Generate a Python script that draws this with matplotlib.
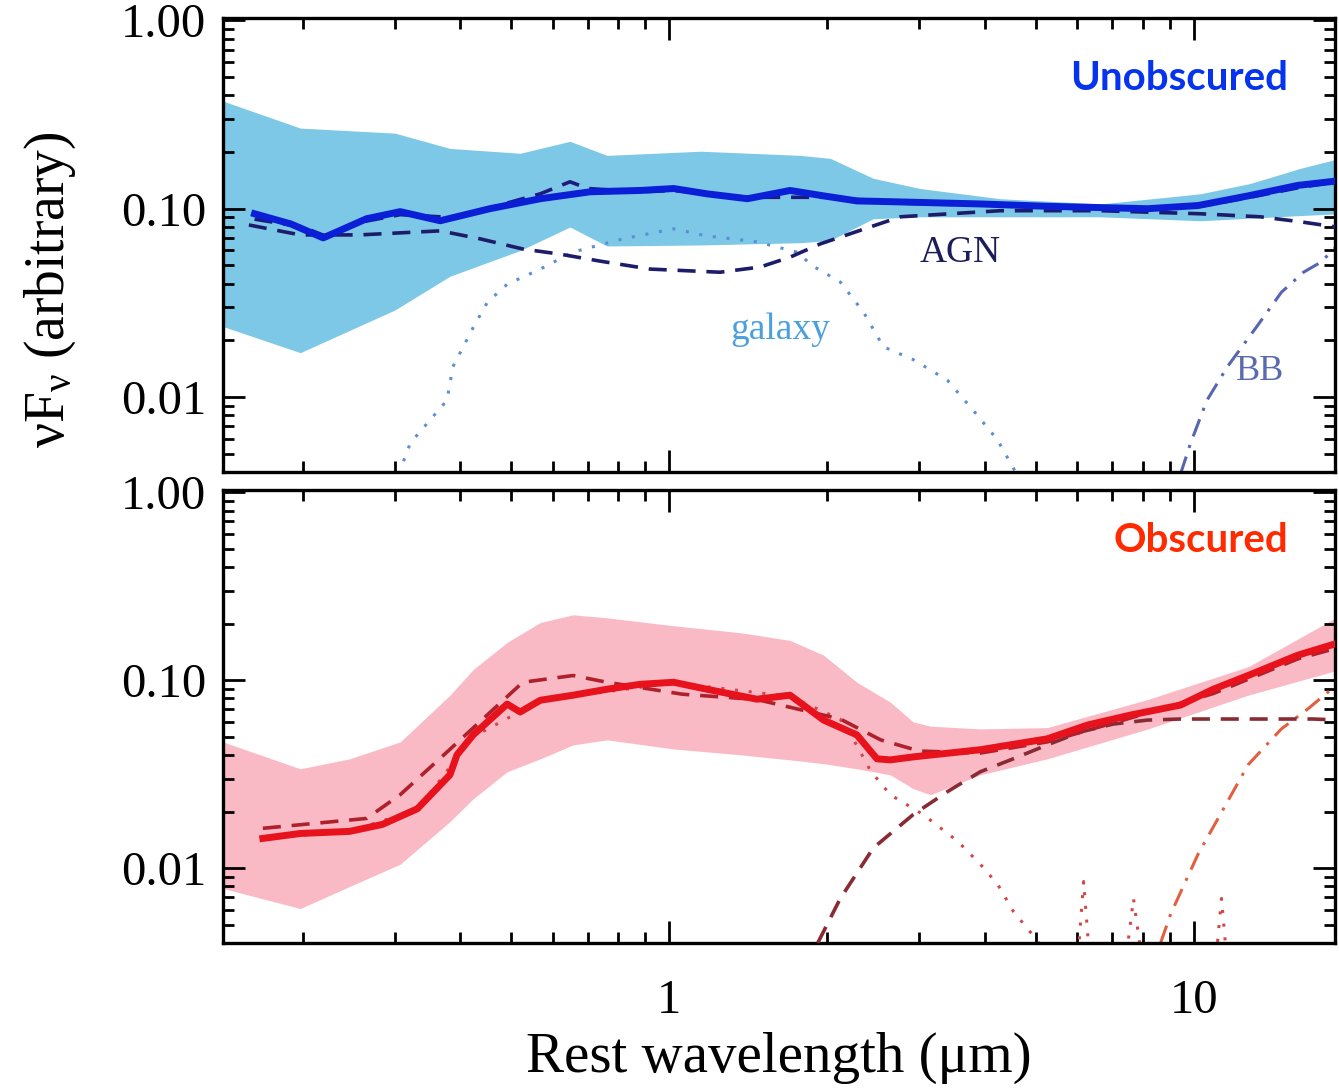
import matplotlib
matplotlib.use("Agg")
import matplotlib.pyplot as plt
from matplotlib.ticker import LogLocator, FixedLocator, FixedFormatter, NullFormatter

plt.rcParams['font.family'] = ['Liberation Serif', 'DejaVu Serif']
plt.rcParams['mathtext.fontset'] = 'custom'
plt.rcParams['mathtext.rm'] = 'Liberation Serif'
plt.rcParams['mathtext.it'] = 'Liberation Serif'

# ---- unobscured (top panel) ----
unob_band_x = [0.141, 0.198, 0.30, 0.382, 0.52, 0.647, 0.761, 1.15, 1.78, 2.03, 2.45, 3.01, 4.28, 6.65, 10.3, 12.8, 16.0, 19.0]
unob_band_hi = [0.373, 0.268, 0.252, 0.209, 0.197, 0.228, 0.192, 0.202, 0.192, 0.185, 0.145, 0.128, 0.113, 0.106, 0.120, 0.136, 0.164, 0.185]
unob_band_lo = [0.0237, 0.0172, 0.029, 0.0438, 0.060, 0.080, 0.0634, 0.0642, 0.066, 0.068, 0.0885, 0.0906, 0.0906, 0.0906, 0.0863, 0.089, 0.092, 0.094]

unob_x = [0.162, 0.19, 0.219, 0.265, 0.307, 0.366, 0.455, 0.568, 0.707, 0.881, 1.02, 1.18, 1.41, 1.70, 1.97, 2.28, 2.64, 3.92, 5.26, 8.17, 10.2, 12.7, 15.8, 19.0]
unob_mean = [0.094, 0.083, 0.070, 0.0885, 0.0965, 0.0863, 0.100, 0.113, 0.123, 0.125, 0.128, 0.120, 0.113, 0.125, 0.117, 0.110, 0.109, 0.106, 0.103, 0.100, 0.104, 0.117, 0.133, 0.141]

unob_model_x = [0.162, 0.20, 0.22, 0.265, 0.307, 0.382, 0.455, 0.568, 0.647, 0.70, 0.88, 1.02, 1.41, 2.03, 2.76, 4.28, 8.17, 10.3, 12.8, 16.0, 19.0]
unob_model = [0.088, 0.080, 0.072, 0.086, 0.093, 0.090, 0.101, 0.120, 0.139, 0.128, 0.123, 0.125, 0.115, 0.115, 0.107, 0.104, 0.100, 0.103, 0.115, 0.130, 0.140]

unob_agn_x = [0.158, 0.198, 0.257, 0.366, 0.436, 0.526, 0.619, 0.738, 0.92, 1.25, 1.49, 1.70, 1.94, 2.42, 2.76, 4.28, 6.65, 10.3, 13.4, 16.0, 18.6, 19.0]
unob_agn = [0.082, 0.0726, 0.0726, 0.0763, 0.0692, 0.0611, 0.0574, 0.0527, 0.0478, 0.046, 0.049, 0.0553, 0.065, 0.0801, 0.0906, 0.0976, 0.0976, 0.094, 0.0906, 0.0852, 0.0801, 0.079]

unob_gal_x = [0.305, 0.321, 0.377, 0.387, 0.423, 0.45, 0.491, 0.568, 0.656, 0.817, 1.02, 1.18, 1.47, 1.75, 1.88, 2.12, 2.35, 2.56, 2.92, 3.39, 3.80, 4.23, 4.53, 4.7]
unob_gal = [0.0039, 0.0057, 0.0096, 0.0145, 0.0234, 0.0318, 0.0397, 0.0478, 0.0589, 0.0692, 0.0782, 0.0717, 0.0667, 0.0589, 0.0496, 0.0408, 0.0281, 0.0185, 0.0158, 0.0123, 0.0085, 0.0059, 0.0042, 0.0035]

unob_bb_x = [9.44, 9.87, 10.6, 11.6, 13.2, 14.7, 16.2, 17.5, 18.5, 19.0]
unob_bb = [0.0039, 0.0057, 0.0096, 0.0145, 0.0237, 0.036, 0.046, 0.0521, 0.0611, 0.064]

# ---- obscured (bottom panel) ----
obs_band_x = [0.141, 0.198, 0.246, 0.307, 0.382, 0.423, 0.491, 0.568, 0.656, 0.761, 1.02, 1.37, 1.70, 1.97, 2.28, 2.64, 2.92, 3.15, 3.92, 5.26, 8.17, 12.7, 19.0]
obs_band_hi = [0.047, 0.0338, 0.0382, 0.047, 0.0833, 0.114, 0.159, 0.203, 0.223, 0.215, 0.195, 0.179, 0.163, 0.136, 0.0976, 0.0765, 0.060, 0.057, 0.0551, 0.056, 0.079, 0.118, 0.221]
obs_band_lo = [0.0078, 0.0061, 0.0080, 0.0105, 0.0177, 0.0234, 0.0326, 0.0382, 0.0453, 0.0482, 0.0431, 0.0401, 0.0377, 0.036, 0.0338, 0.0314, 0.0265, 0.0246, 0.0314, 0.0382, 0.055, 0.0833, 0.114]

obs_x = [0.168, 0.198, 0.246, 0.284, 0.331, 0.382, 0.394, 0.423, 0.491, 0.52, 0.568, 0.656, 0.761, 0.881, 1.02, 1.18, 1.47, 1.70, 1.97, 2.28, 2.49, 2.64, 2.92, 3.92, 5.26, 6.28, 7.58, 9.44, 10.9, 12.7, 15.8, 19.0]
obs_mean = [0.0144, 0.0153, 0.0157, 0.0171, 0.0207, 0.0314, 0.0401, 0.0512, 0.0747, 0.0678, 0.0783, 0.0833, 0.0896, 0.0952, 0.0976, 0.0896, 0.0793, 0.0833, 0.0614, 0.0512, 0.0382, 0.0377, 0.0391, 0.0427, 0.0488, 0.0578, 0.0653, 0.0738, 0.0896, 0.106, 0.136, 0.159]

obs_model_x = [0.168, 0.265, 0.307, 0.372, 0.526, 0.656, 0.761, 1.06, 1.47, 2.12, 2.53, 3.0, 3.92, 5.26, 7.58, 10.9, 15.8, 19.0]
obs_model = [0.0163, 0.0184, 0.0246, 0.0401, 0.0976, 0.106, 0.0976, 0.0843, 0.079, 0.0622, 0.0482, 0.042, 0.041, 0.047, 0.063, 0.085, 0.130, 0.150]

obs_agn_x = [1.92, 2.12, 2.45, 2.92, 3.39, 3.92, 4.53, 5.26, 6.09, 7.03, 8.17, 9.44, 12.7, 16.9, 19.0]
obs_agn = [0.004, 0.0069, 0.0128, 0.0193, 0.0255, 0.0326, 0.0382, 0.0453, 0.0531, 0.0585, 0.0614, 0.0622, 0.0622, 0.0622, 0.0614]

obs_gal_x = [0.168, 0.246, 0.331, 0.423, 0.568, 1.02, 1.70, 2.12, 2.28, 2.42, 2.64, 3.05, 3.55, 3.92, 4.23, 4.53, 5.04, 5.5, 6.0, 6.17, 6.35, 7.4, 7.68, 8.0, 11.0, 11.3, 11.6]
obs_gal = [0.0144, 0.0157, 0.0205, 0.050, 0.078, 0.097, 0.082, 0.062, 0.045, 0.033, 0.0246, 0.0193, 0.0139, 0.0105, 0.0082, 0.0059, 0.0041, 0.0025, 0.003, 0.0085, 0.003, 0.003, 0.0069, 0.003, 0.003, 0.0069, 0.003]

obs_bb_x = [8.65, 9.04, 10.2, 11.4, 12.7, 14.7, 16.5, 19.0]
obs_bb = [0.004, 0.0057, 0.0119, 0.0207, 0.0355, 0.0551, 0.0703, 0.0976]

xlim = (0.141, 18.6)
ylim = (0.004, 1.03)

fig = plt.figure(figsize=(13.39, 10.9), dpi=100)
ax1 = fig.add_axes([0.1665, 0.567, 0.8305, 0.4165])
ax2 = fig.add_axes([0.1665, 0.1349, 0.8305, 0.4156])


def style_axis(ax, show_x):
    ax.set_xscale('log')
    ax.set_yscale('log')
    ax.set_xlim(*xlim)
    ax.set_ylim(*ylim)
    for s in ax.spines.values():
        s.set_linewidth(2.4)
    ax.yaxis.set_major_locator(FixedLocator([0.01, 0.1, 1.0]))
    ax.yaxis.set_major_formatter(FixedFormatter(['0.01', '0.10', '1.00']))
    ax.yaxis.set_minor_locator(LogLocator(base=10, subs=range(2, 10)))
    ax.yaxis.set_minor_formatter(NullFormatter())
    ax.xaxis.set_major_locator(FixedLocator([1, 10]))
    ax.xaxis.set_minor_locator(LogLocator(base=10, subs=range(2, 10)))
    ax.xaxis.set_minor_formatter(NullFormatter())
    if show_x:
        ax.xaxis.set_major_formatter(FixedFormatter(['1', '10']))
    else:
        ax.xaxis.set_major_formatter(NullFormatter())
    ax.tick_params(which='both', direction='in', top=True, right=True, width=2)
    ax.tick_params(which='major', length=16, labelsize=35, pad=12)
    ax.tick_params(which='minor', length=8)
    ax.tick_params(axis='x', which='major', pad=26)


# top panel
ax1.fill_between(unob_band_x, unob_band_lo, unob_band_hi, color='#7dc8e6', lw=0, zorder=1)
ax1.plot(unob_gal_x, unob_gal, color='#5b8fd0', lw=2.2, ls=(0, (1, 3.5)), zorder=2)
ax1.plot(unob_agn_x, unob_agn, color='#1c1c6b', lw=2.6, ls=(0, (5, 3)), zorder=3)
ax1.plot(unob_bb_x, unob_bb, color='#5865b0', lw=2.2, ls=(0, (6, 3, 1, 3)), zorder=2)
ax1.plot(unob_model_x, unob_model, color='#1c1c80', lw=2.6, ls=(0, (5, 3)), zorder=3)
ax1.plot(unob_x, unob_mean, color='#0b1fd6', lw=5, zorder=4)
style_axis(ax1, False)
ax1.text(1288 / 1339, 1 - 78 / 1090, 'Unobscured', transform=fig.transFigure, ha='right', va='center',
         color='#0633ee', fontsize=29, fontweight='bold', family=['Lato', 'DejaVu Sans'])
ax1.text(960 / 1339, 1 - 253 / 1090, 'AGN', transform=fig.transFigure, ha='center', va='center',
         color='#1c1c5a', fontsize=27)
ax1.text(780 / 1339, 1 - 330 / 1090, 'galaxy', transform=fig.transFigure, ha='center', va='center',
         color='#4a9fdc', fontsize=27)
ax1.text(1260 / 1339, 1 - 372 / 1090, 'BB', transform=fig.transFigure, ha='center', va='center',
         color='#5a6ab0', fontsize=26)

# bottom panel
ax2.fill_between(obs_band_x, obs_band_lo, obs_band_hi, color='#f9bac6', lw=0, zorder=1)
ax2.plot(obs_gal_x, obs_gal, color='#d04848', lw=2.2, ls=(0, (1, 3.5)), zorder=2)
ax2.plot(obs_agn_x, obs_agn, color='#8a2a33', lw=2.6, ls=(0, (5, 3)), zorder=3)
ax2.plot(obs_bb_x, obs_bb, color='#e06040', lw=2.2, ls=(0, (6, 3, 1, 3)), zorder=2)
ax2.plot(obs_model_x, obs_model, color='#b0202a', lw=2.6, ls=(0, (5, 3)), zorder=3)
ax2.plot(obs_x, obs_mean, color='#e8121c', lw=5, zorder=4)
style_axis(ax2, True)
ax2.text(1288 / 1339, 1 - 540 / 1090, 'Obscured', transform=fig.transFigure, ha='right', va='center',
         color='#ff2a00', fontsize=29, fontweight='bold', family=['Lato', 'DejaVu Sans'])

ax2.set_xlabel('Rest wavelength (μm)', fontsize=41, labelpad=6)
fig.text(50 / 1339, 1 - 290 / 1090, r'ν$\mathregular{F_ν}$ (arbitrary)', rotation=90,
         ha='center', va='center', fontsize=40)

fig.savefig('out.png', dpi=100)
